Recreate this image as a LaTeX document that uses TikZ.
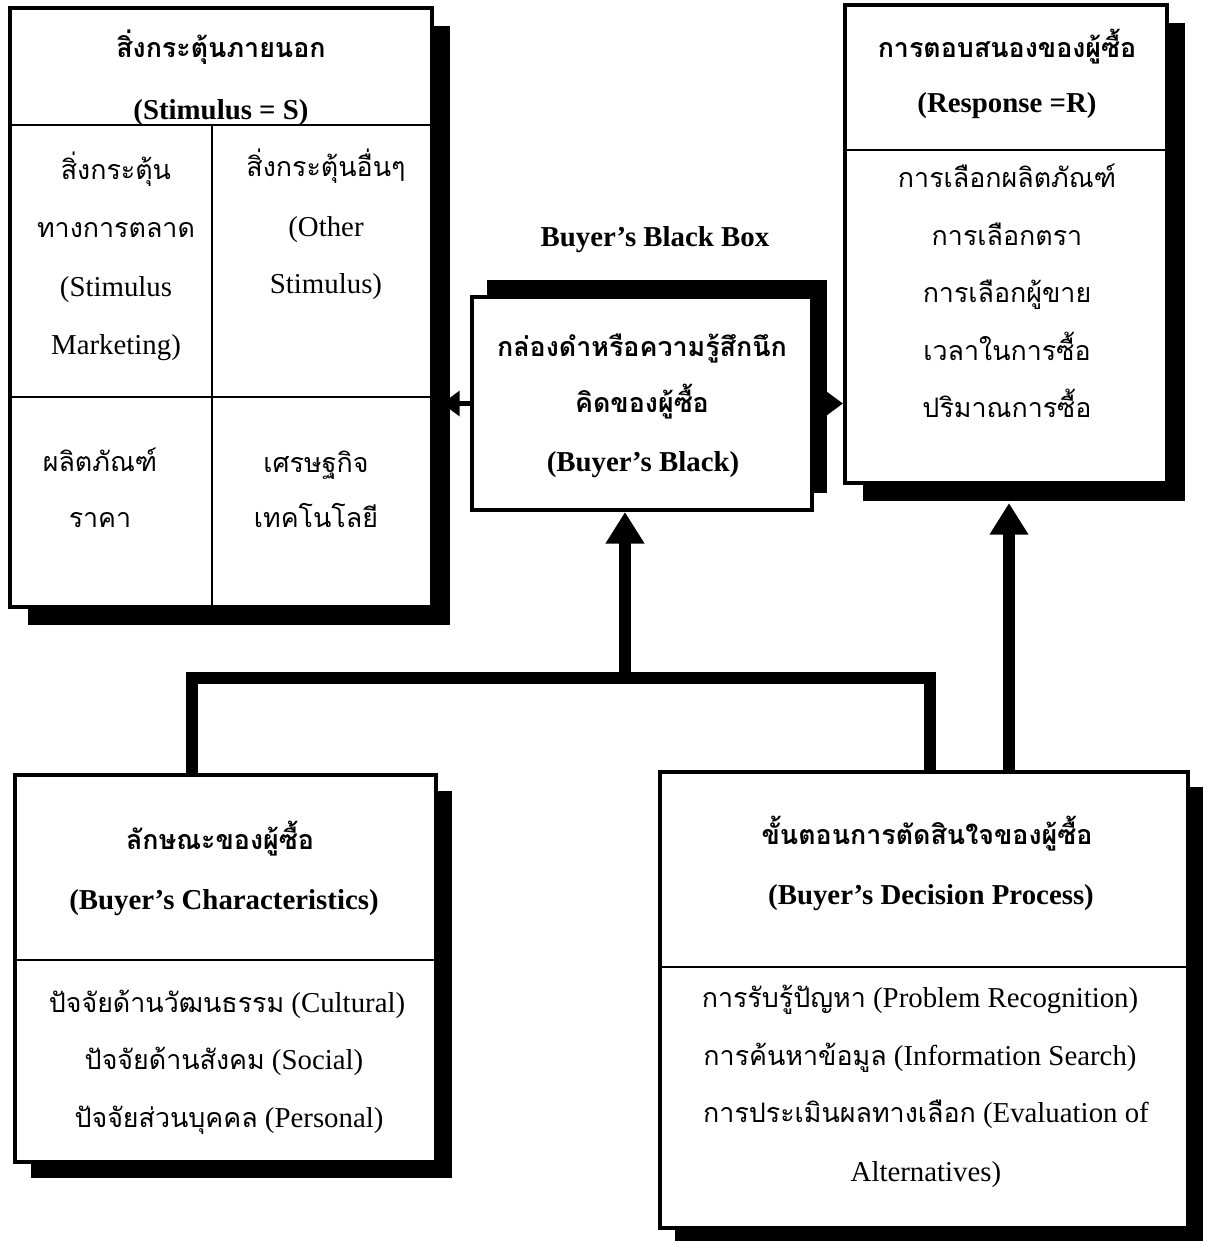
\documentclass[tikz,border=0pt]{standalone}
\usepackage{fontspec}
\setmainfont{Liberation Serif}
\newfontfamily\thaifont[Script=Thai,Scale=0.93]{Loma}
\usetikzlibrary{arrows.meta,shadows}

\newcommand{\thai}[1]{{\thaifont #1}}

\begin{document}
\begin{tikzpicture}[x=0.01cm,y=-0.01cm,
  box/.style={draw,line width=1.1pt,fill=white,inner sep=0pt},
  boxshadow/.style={drop shadow={shadow xshift=#1,shadow yshift=-#1,fill=black,opacity=1}},
  txt/.style={inner sep=0pt,text height=1.6ex,text depth=.4ex,font=\fontsize{8.2}{10}\selectfont},
  txtb/.style={txt,font=\bfseries\fontsize{8.2}{10}\selectfont},
  divider/.style={line width=0.6pt},
  link/.style={line width=3.2pt},
  bigarrow/.style={line width=3.2pt,-{Triangle[length=9pt,width=10.5pt]}},
  smallarrow/.style={line width=1.2pt,-{Triangle[length=5pt,width=7pt]}}]
\useasboundingbox (0,0) rectangle (1211,1241);

\begin{scope}[every node/.style={box}]
    \node[boxshadow=0.18cm,minimum width=4.22cm,minimum height=5.99cm] (stim) at (221,307.5) {};
    \node[drop shadow={shadow xshift=0.15cm,shadow yshift=0.17cm,fill=black,opacity=1},
          minimum width=3.4cm,minimum height=2.13cm] (bb) at (642,403.5) {};
    \node[boxshadow=0.18cm,minimum width=3.22cm,minimum height=4.78cm] (resp) at (1006,244) {};
    \node[boxshadow=0.16cm,minimum width=4.21cm,minimum height=3.87cm] (char) at (225.5,968.5) {};
    \node[boxshadow=0.15cm,minimum width=5.28cm,minimum height=4.56cm] (dec) at (924,1000) {};
\end{scope}

% lines inside the boxes
\draw[divider] (10,125) -- (432,125);
\draw[divider] (10,397) -- (432,397);
\draw[divider] (212,125) -- (212,607);
\draw[divider] (845,150) -- (1167,150);
\draw[divider] (15,960) -- (436,960);
\draw[divider] (660,967) -- (1188,967);

% stimulus
\begin{scope}[every node/.style={txt}]
    \node[txtb] (stimth) at (221,48) {\thai{สิ่งกระตุ้นภายนอก}};
    \node[txtb] (stimen) at (221,110) {(Stimulus = S)};
    \node (mk1) at (116,170) {\thai{สิ่งกระตุ้น}};
    \node (mk2) at (116,228) {\thai{ทางการตลาด}};
    \node (mk3) at (116,287) {(Stimulus};
    \node (mk4) at (116,345) {Marketing)};
    \node (ot1) at (326,167) {\thai{สิ่งกระตุ้นอื่นๆ}};
    \node (ot2) at (326,227) {(Other};
    \node (ot3) at (326,284) {Stimulus)};
    \node (mk5) at (100,462) {\thai{ผลิตภัณฑ์}};
    \node (mk6) at (100,518) {\thai{ราคา}};
    \node (ot4) at (316,463) {\thai{เศรษฐกิจ}};
    \node (ot5) at (316,518) {\thai{เทคโนโลยี}};

    % black box
    \node[txtb] (bbtitle) at (655,237) {Buyer’s Black Box};
    \node[txtb] (bb1) at (642,347) {\thai{กล่องดำหรือความรู้สึกนึก}};
    \node[txtb] (bb2) at (642,403) {\thai{คิดของผู้ซื้อ}};
    \node[txtb] (bb3) at (643,462) {(Buyer’s Black)};

    % response
    \node[txtb] (rs1) at (1007,48) {\thai{การตอบสนองของผู้ซื้อ}};
    \node[txtb] (rs2) at (1007,103) {(Response =R)};
    \foreach \t [count=\i] in {การเลือกผลิตภัณฑ์,การเลือกตรา,การเลือกผู้ขาย,เวลาในการซื้อ,ปริมาณการซื้อ}
        \node (rsi\i) at (1007,120.5+57.5*\i) {\thai{\t}};

    % characteristics
    \node[txtb] (ch1) at (220,840) {\thai{ลักษณะของผู้ซื้อ}};
    \node[txtb] (ch2) at (224,900) {(Buyer’s Characteristics)};
    \node (ch3) at (227,1003) {\thai{ปัจจัยด้านวัฒนธรรม} (Cultural)};
    \node (ch4) at (224,1060) {\thai{ปัจจัยด้านสังคม} (Social)};
    \node (ch5) at (229,1118) {\thai{ปัจจัยส่วนบุคคล} (Personal)};

    % decision process
    \node[txtb] (dc1) at (927,835) {\thai{ขั้นตอนการตัดสินใจของผู้ซื้อ}};
    \node[txtb] (dc2) at (931,895) {(Buyer’s Decision Process)};
    \node (dc3) at (920,998) {\thai{การรับรู้ปัญหา} (Problem Recognition)};
    \node (dc4) at (920,1056) {\thai{การค้นหาข้อมูล} (Information Search)};
    \node (dc5) at (926,1113) {\thai{การประเมินผลทางเลือก} (Evaluation of};
    \node (dc6) at (926,1172) {Alternatives)};
\end{scope}

% connectors
\coordinate (jl) at (192,678);
\coordinate (jm) at (625,678);
\coordinate (jr) at (930,678);
\coordinate (ju) at (1009,772);

\draw[link] (char.north -| jl) -- (jl) -- (jr) -- (dec.north -| jr);
\draw[bigarrow] (jm) -- (jm |- bb.south);
\draw[bigarrow,shorten >=0.18cm] (dec.north -| ju) -- (ju |- resp.south);
\draw[smallarrow,shorten >=0.08cm] (bb.west) -- (bb.west -| stim.east);
\draw[smallarrow] (bb.east) -- (bb.east -| resp.west);
\end{tikzpicture}
\end{document}
